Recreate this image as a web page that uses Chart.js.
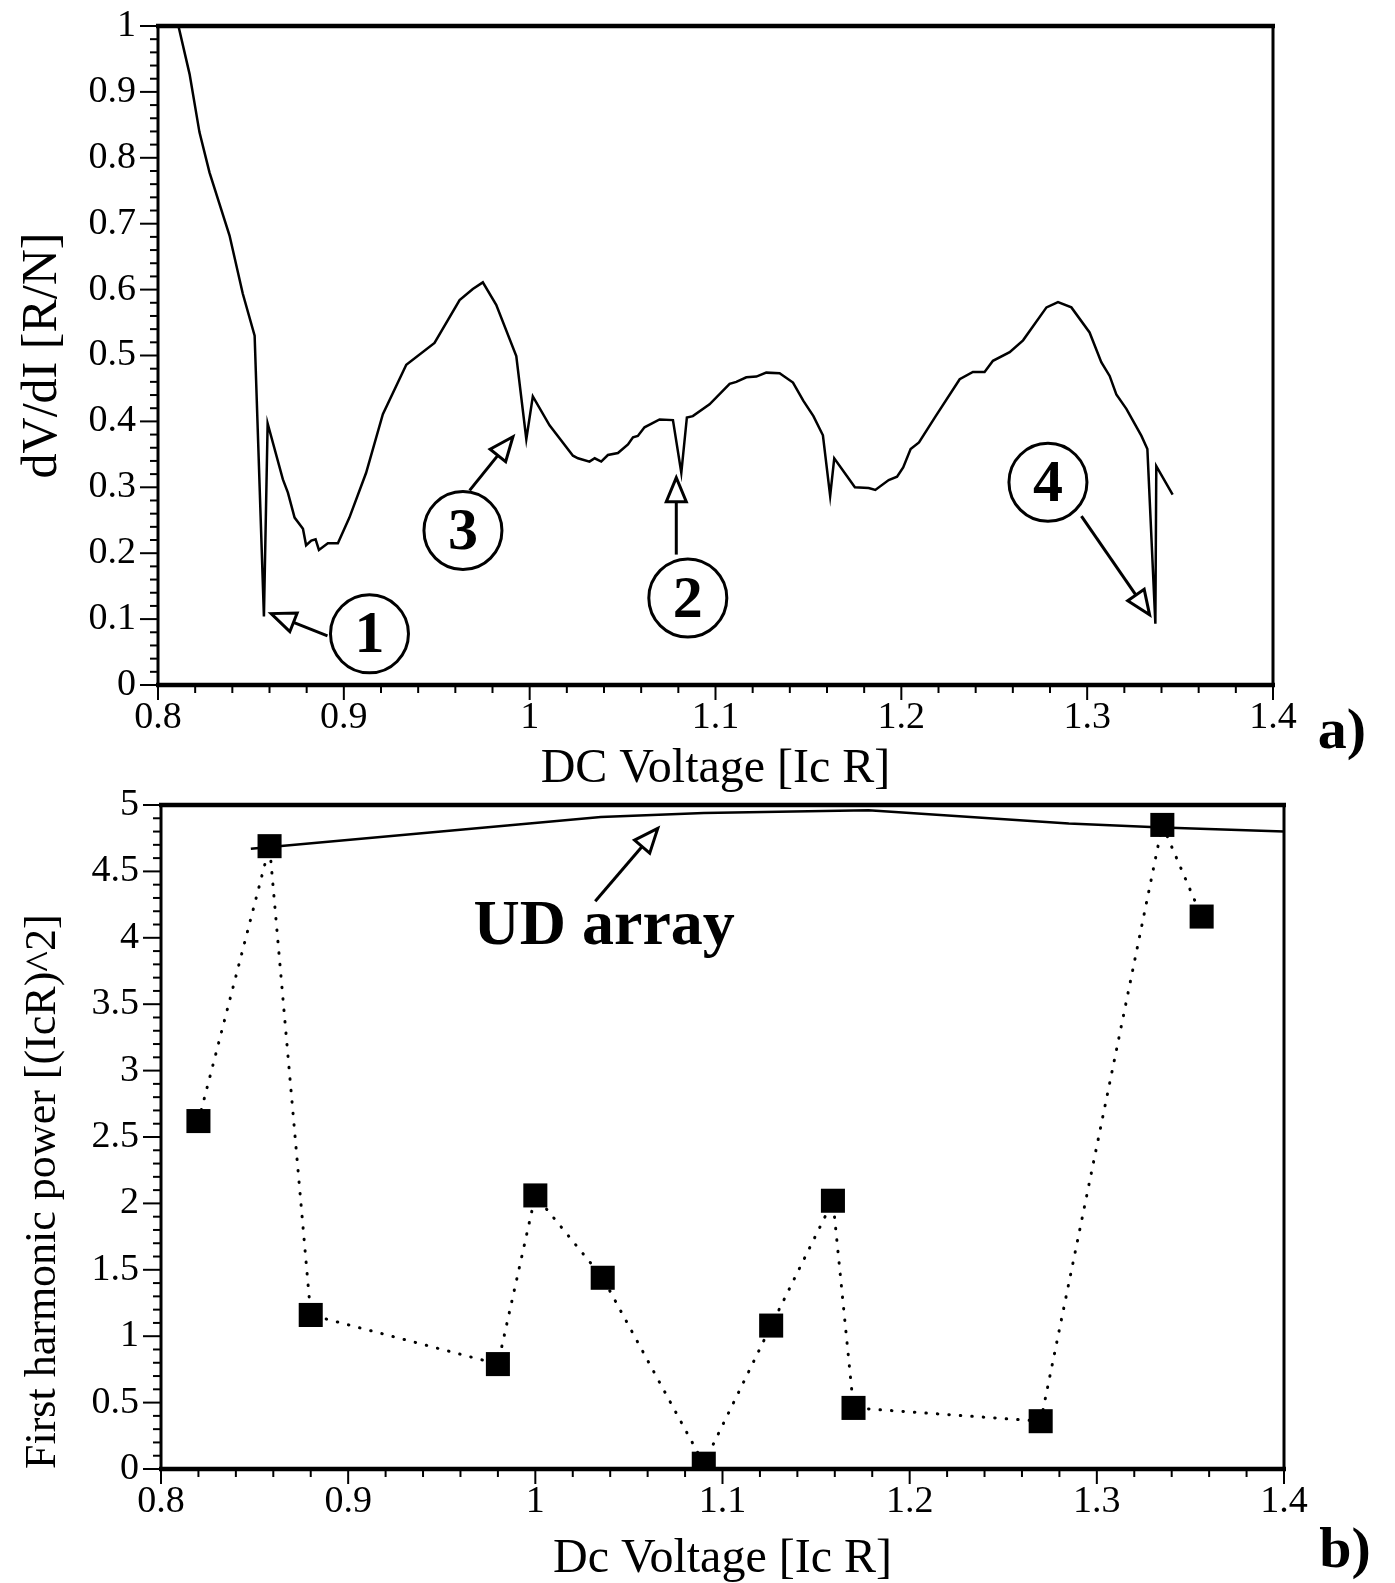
<!DOCTYPE html>
<html>
<head>
<meta charset="utf-8">
<script src="https://cdn.jsdelivr.net/npm/chart.js@4.4.1/dist/chart.umd.min.js"></script>
<style>
  body { margin: 0; background: #fff; overflow: hidden; }
  canvas { position: absolute; left: 0; }
  #topChart { top: -16px; }
  #bottomChart { top: 763px; }
</style>
</head>
<body>
<canvas id="topChart" width="1395" height="816"></canvas>
<canvas id="bottomChart" width="1395" height="820"></canvas>
<script>
// a) differential resistance vs dc voltage
const dvdiX = [0.811, 0.817, 0.8223, 0.8277, 0.8385, 0.8456, 0.852, 0.857, 0.859, 0.8672,
  0.8699, 0.8735, 0.878, 0.8797, 0.8825, 0.8848, 0.8866, 0.8914, 0.8968, 0.903,
  0.912, 0.921, 0.9336, 0.9488, 0.9623, 0.9694, 0.9748, 0.982, 0.9928, 0.9982,
  1.0017, 1.0107, 1.0233, 1.026, 1.0322, 1.035, 1.0385, 1.0421, 1.0475, 1.0529,
  1.0556, 1.0582, 1.0618, 1.0699, 1.0771, 1.0816, 1.0846, 1.0878, 1.0968, 1.1076,
  1.1112, 1.1166, 1.122, 1.1273, 1.1345, 1.1417, 1.1473, 1.1527, 1.1578, 1.1617,
  1.1639, 1.1707, 1.175, 1.1824, 1.186, 1.1932, 1.1977, 1.201, 1.205, 1.2095,
  1.2185, 1.2314, 1.2385, 1.2448, 1.2493, 1.2583, 1.2655, 1.2781, 1.2843, 1.2915,
  1.3013, 1.3076, 1.3121, 1.3157, 1.3211, 1.3292, 1.3324, 1.3367, 1.3372, 1.346];
const dvdiY = [1.0, 0.927, 0.839, 0.778, 0.682, 0.594, 0.530, 0.104, 0.397, 0.312,
  0.292, 0.254, 0.237, 0.212, 0.219, 0.221, 0.205, 0.215, 0.215, 0.254,
  0.322, 0.411, 0.486, 0.519, 0.584, 0.601, 0.611, 0.577, 0.499, 0.373,
  0.438, 0.394, 0.348, 0.344, 0.339, 0.344, 0.339, 0.349, 0.352, 0.365,
  0.376, 0.378, 0.391, 0.403, 0.402, 0.322, 0.406, 0.408, 0.426, 0.457,
  0.460, 0.467, 0.468, 0.474, 0.473, 0.459, 0.431, 0.408, 0.379, 0.287,
  0.344, 0.317, 0.300, 0.299, 0.296, 0.311, 0.316, 0.330, 0.358, 0.368,
  0.408, 0.464, 0.475, 0.475, 0.492, 0.505, 0.523, 0.573, 0.581, 0.573,
  0.535, 0.490, 0.469, 0.441, 0.419, 0.378, 0.358, 0.093, 0.332, 0.289];

// b) first harmonic power, measured points
const powerX = [0.82, 0.858, 0.88, 0.98, 1.0, 1.036, 1.09, 1.126, 1.159, 1.17, 1.27, 1.335, 1.356];
const powerY = [2.62, 4.69, 1.16, 0.79, 2.06, 1.44, 0.04, 1.08, 2.02, 0.46, 0.36, 4.85, 4.16];

// UD array line
const udX = [0.848, 1.035, 1.09, 1.178, 1.285, 1.335, 1.4];
const udY = [4.67, 4.91, 4.94, 4.96, 4.86, 4.83, 4.80];

// tick labels
const voltTicks = [0.8, 0.9, 1, 1.1, 1.2, 1.3, 1.4];
const dvdiTicks = [0, 0.1, 0.2, 0.3, 0.4, 0.5, 0.6, 0.7, 0.8, 0.9, 1];
const powerTicks = [0, 0.5, 1, 1.5, 2, 2.5, 3, 3.5, 4, 4.5, 5];

const SERIF = "'Liberation Serif', 'Times New Roman', serif";

function stepList(min, max, step) {
  const out = [];
  const n = Math.round((max - min) / step);
  for (let i = 0; i <= n; i++) out.push(Math.round((min + i * step) * 1000) / 1000);
  return out;
}
function isMajor(list, v) {
  return list.some(m => Math.abs(m - v) < 1e-6);
}
function axis(min, max, minorStep, majors, fit, pad, extra) {
  return Object.assign({
    type: 'linear', min: min, max: max,
    afterBuildTicks: s => { s.ticks = stepList(min, max, minorStep).map(v => ({value: v})); },
    afterFit: fit,
    grid: {display: false, drawTicks: false},
    border: {display: false},
    ticks: {
      autoSkip: false, maxRotation: 0, color: '#000', padding: pad,
      font: {family: SERIF, size: 38, lineHeight: 1},
      callback: v => isMajor(majors, v) ? String(v) : ''
    }
  }, extra);
}

function arrow(ctx, x1, y1, x2, y2) {
  const ang = Math.atan2(y2 - y1, x2 - x1);
  const len = 24, hw = 10;
  const bx = x2 - len * Math.cos(ang), by = y2 - len * Math.sin(ang);
  ctx.beginPath();
  ctx.moveTo(x1, y1);
  ctx.lineTo(bx, by);
  ctx.stroke();
  ctx.beginPath();
  ctx.moveTo(x2, y2);
  ctx.lineTo(bx + hw * Math.sin(ang), by - hw * Math.cos(ang));
  ctx.lineTo(bx - hw * Math.sin(ang), by + hw * Math.cos(ang));
  ctx.closePath();
  ctx.fillStyle = '#fff';
  ctx.fill();
  ctx.stroke();
}

// ticks + frame
const frame = {
  id: 'frame',
  afterDraw(chart) {
    const ctx = chart.ctx;
    const a = chart.chartArea;
    const xs = chart.scales.x, ys = chart.scales.y;
    ctx.save();
    ctx.strokeStyle = '#000';
    ctx.lineWidth = 2;
    xs.ticks.forEach(t => {
      const px = xs.getPixelForValue(t.value);
      ctx.beginPath();
      ctx.moveTo(px, a.bottom);
      ctx.lineTo(px, a.bottom + (t.label ? 15 : 8));
      ctx.stroke();
    });
    ys.ticks.forEach(t => {
      const py = ys.getPixelForValue(t.value);
      ctx.beginPath();
      ctx.moveTo(a.left, py);
      ctx.lineTo(a.left - (t.label ? 18 : 8), py);
      ctx.stroke();
    });
    ctx.lineWidth = 3;
    ctx.beginPath();
    ctx.moveTo(a.left, a.top); ctx.lineTo(a.left, a.bottom);
    ctx.moveTo(a.right, a.top); ctx.lineTo(a.right, a.bottom);
    ctx.stroke();
    ctx.lineWidth = 4.5;
    ctx.beginPath();
    ctx.moveTo(a.left - 2, a.top); ctx.lineTo(a.right + 2, a.top);
    ctx.moveTo(a.left - 2, a.bottom); ctx.lineTo(a.right + 2, a.bottom);
    ctx.stroke();
    ctx.restore();
  }
};

// circled markers on panel a
const markers = [
  {text: '1', cx: 0.9138, cy: 0.0776, fx: 0.8912, fy: 0.0746, tx: 0.8609, ty: 0.1084},
  {text: '3', cx: 0.9641, cy: 0.2344, fx: 0.9677, fy: 0.2953, tx: 0.991, ty: 0.3767},
  {text: '2', cx: 1.0851, cy: 0.132, fx: 1.0789, fy: 0.1979, tx: 1.0789, ty: 0.3146},
  {text: '4', cx: 1.2789, cy: 0.3075, fx: 1.2969, fy: 0.2562, tx: 1.3336, ty: 0.1065}
];

const topNotes = {
  id: 'topNotes',
  afterDraw(chart) {
    const ctx = chart.ctx, xs = chart.scales.x, ys = chart.scales.y;
    ctx.save();
    ctx.strokeStyle = '#000';
    ctx.lineWidth = 3;
    markers.forEach(m => {
      const cx = xs.getPixelForValue(m.cx), cy = ys.getPixelForValue(m.cy);
      ctx.beginPath();
      ctx.arc(cx, cy, 39, 0, Math.PI * 2);
      ctx.stroke();
      ctx.fillStyle = '#000';
      ctx.font = 'bold 60px ' + SERIF;
      ctx.textAlign = 'center';
      ctx.textBaseline = 'middle';
      ctx.fillText(m.text, cx, cy + 3);
      arrow(ctx, xs.getPixelForValue(m.fx), ys.getPixelForValue(m.fy),
        xs.getPixelForValue(m.tx), ys.getPixelForValue(m.ty));
    });
    ctx.fillStyle = '#000';
    ctx.font = 'bold 58px ' + SERIF;
    ctx.textAlign = 'center';
    ctx.textBaseline = 'middle';
    ctx.fillText('a)', 1342, 749);
    ctx.restore();
  }
};

const bottomNotes = {
  id: 'bottomNotes',
  afterDraw(chart) {
    const ctx = chart.ctx, xs = chart.scales.x, ys = chart.scales.y;
    ctx.save();
    ctx.strokeStyle = '#000';
    ctx.lineWidth = 3;
    arrow(ctx, xs.getPixelForValue(1.032), ys.getPixelForValue(4.275),
      xs.getPixelForValue(1.0654), ys.getPixelForValue(4.824));
    ctx.fillStyle = '#000';
    ctx.font = 'bold 64px ' + SERIF;
    ctx.textAlign = 'left';
    ctx.textBaseline = 'alphabetic';
    ctx.fillText('UD array', xs.getPixelForValue(0.967), ys.getPixelForValue(3.95));
    ctx.font = 'bold 58px ' + SERIF;
    ctx.textAlign = 'center';
    ctx.textBaseline = 'middle';
    ctx.fillText('b)', 1345, 789);
    ctx.restore();
  }
};

new Chart(document.getElementById('topChart'), {
  type: 'scatter',
  data: {
    datasets: [{
      data: dvdiX.map((x, i) => ({x: x, y: dvdiY[i]})),
      showLine: true, borderColor: '#000', borderWidth: 2.5,
      pointRadius: 0, tension: 0
    }]
  },
  options: {
    responsive: false, animation: false,
    layout: {padding: {top: 42, right: 122, left: 0, bottom: 0}},
    plugins: {legend: {display: false}, tooltip: {enabled: false}},
    scales: {
      x: axis(0.8, 1.4, 0.02, voltTicks, s => { s.height = 115; }, 14, {
        title: {display: true, text: 'DC Voltage [Ic R]', color: '#000',
          font: {family: SERIF, size: 48, lineHeight: 1}, padding: {top: 0, bottom: 7}}
      }),
      y: axis(0, 1, 0.02, dvdiTicks, s => { s.width = 158; }, 22, {
        title: {display: true, text: 'dV/dI [R/N]', color: '#000',
          font: {family: SERIF, size: 50, lineHeight: 1}, padding: {top: 18, bottom: 0}}
      })
    }
  },
  plugins: [frame, topNotes]
});

new Chart(document.getElementById('bottomChart'), {
  type: 'scatter',
  data: {
    datasets: [{
      data: udX.map((x, i) => ({x: x, y: udY[i]})),
      showLine: true, borderColor: '#000', borderWidth: 2.5,
      pointRadius: 0, tension: 0
    }, {
      data: powerX.map((x, i) => ({x: x, y: powerY[i]})),
      showLine: true, borderColor: '#000', borderWidth: 3,
      borderDash: [0.5, 11], borderCapStyle: 'round',
      pointStyle: 'rect', pointRadius: 17, pointBackgroundColor: '#000',
      pointBorderWidth: 0, tension: 0
    }]
  },
  options: {
    responsive: false, animation: false,
    layout: {padding: {top: 42, right: 111, left: 0, bottom: 0}},
    plugins: {legend: {display: false}, tooltip: {enabled: false}},
    scales: {
      x: axis(0.8, 1.4, 0.02, voltTicks, s => { s.height = 114; }, 14, {
        title: {display: true, text: 'Dc Voltage [Ic R]', color: '#000',
          font: {family: SERIF, size: 48, lineHeight: 1}, padding: {top: 0, bottom: 0}}
      }),
      y: axis(0, 5, 0.1, powerTicks, s => { s.width = 161; }, 22, {
        title: {display: true, text: 'First harmonic power [(IcR)^2]', color: '#000', align: 'start',
          font: {family: SERIF, size: 44, lineHeight: 1}, padding: {top: 21, bottom: 0}}
      })
    }
  },
  plugins: [frame, bottomNotes]
});
</script>
</body>
</html>
